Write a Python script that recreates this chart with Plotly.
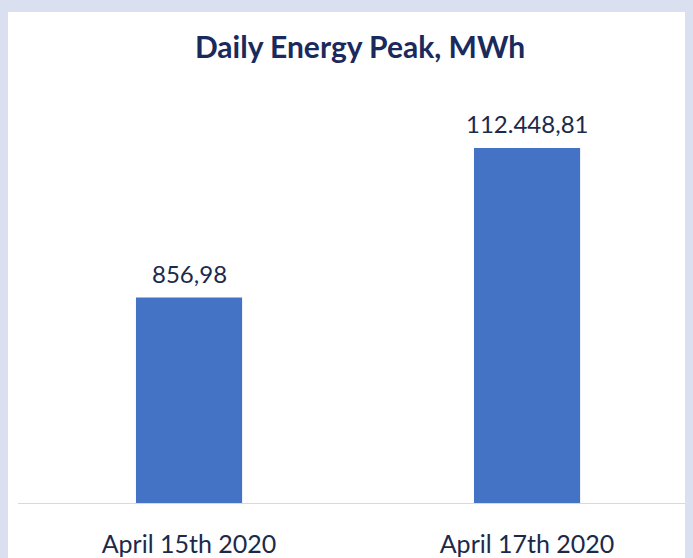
import plotly.graph_objects as go

# categories and values as shown on the chart
dates = ["April 15th 2020", "April 17th 2020"]
bar_heights = [856.98, 1481.0]          # drawn bar heights (as pictured)
value_labels = ["856,98", "112.448,81"]  # data labels printed above bars

FONT = "Lato, Open Sans, sans-serif"
FRAME = "#dae0ef"

fig = go.Figure(
    data=[
        go.Bar(
            x=dates,
            y=bar_heights,
            marker=dict(color="#4472c4", line=dict(width=0)),
            width=0.314,
            hoverinfo="skip",
        )
    ],
    layout=go.Layout(
        width=693,
        height=558,
        margin=dict(l=10, r=8, t=92, b=63),
        paper_bgcolor=FRAME,
        plot_bgcolor="white",
        showlegend=False,
        title=dict(
            text="<b>Daily Energy Peak, MWh</b>",
            x=0.508,
            xanchor="center",
            y=1 - 39.5 / 558,
            yanchor="middle",
            yref="container",
            font=dict(family=FONT, size=30, color="#1a2a5c"),
        ),
        xaxis=dict(
            range=[-0.506, 1.491],
            showline=True,
            linecolor="#d9d9d9",
            linewidth=1,
            showgrid=False,
            ticks="outside",
            ticklen=19,
            tickcolor="white",
            tickfont=dict(family=FONT, size=25, color="#1b2a4a"),
            fixedrange=True,
        ),
        yaxis=dict(
            range=[0, 1681],
            visible=False,
            fixedrange=True,
        ),
        shapes=[
            # white card behind the chart
            dict(
                type="rect",
                xref="paper",
                yref="paper",
                x0=(-1 - 10) / 675,
                x1=1.05,
                y0=-0.3,
                y1=(495 - 4) / 403,
                fillcolor="white",
                line=dict(width=0),
                layer="below",
            )
        ],
    ),
)

# data labels above the bars
for d, h, lab in zip(dates, bar_heights, value_labels):
    fig.add_annotation(
        x=d, y=h, text=lab, showarrow=False,
        xanchor="center", yanchor="bottom", yshift=8,
        font=dict(family=FONT, size=24, color="#1b2a4a"),
    )

fig.write_html(
    "out.html",
    post_script=f"document.body.style.background = '{FRAME}';",
)
